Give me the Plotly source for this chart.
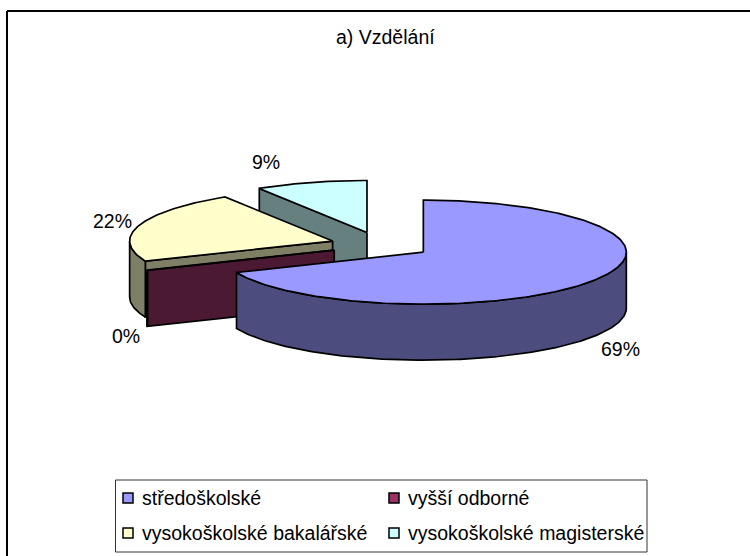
import numpy as np
import plotly.graph_objects as go

# %%
# Data (labels show these rounded)
categories = ["středoškolské", "vyšší odborné", "vysokoškolské bakalářské", "vysokoškolské magisterské"]
shares = [68.6, 0.1, 22.4, 8.9]
top_colors = ["#9999FF", "#993366", "#FFFFCC", "#CCFFFF"]
side_colors = ["#4C4C7F", "#4C1933", "#7F7F66", "#667F7F"]
title_text = "a) Vzdělání"

# Pie projection, in page pixels
CX, CY = 381, 245
RX, RY = 203, 52
DEPTH = 56
EXPLODE = 0.25
OUTLINE = 1.7
FONT = "Liberation Sans, Arial, sans-serif"
FONT_SIZE = 19.5
# where Excel put the percent labels
LABEL_XY = [(620, 349), (126, 336), (112, 221), (266, 162)]


def rim(center, a0, a1, depth=0.0):
    # points of the ellipse from angle a0 to a1 (degrees, clockwise from 12 o'clock)
    n = max(2, int(abs(a1 - a0)) + 1)
    t = np.radians(np.linspace(a0, a1, n))
    return center[0] + RX * np.sin(t), center[1] - RY * np.cos(t) + depth


def add_poly(fig, x, y, color):
    fig.add_trace(
        go.Scatter(
            x=np.r_[x, x[0]],
            y=np.r_[y, y[0]],
            mode="lines",
            fill="toself",
            fillcolor=color,
            line=dict(color="black", width=OUTLINE),
            hoverinfo="skip",
            showlegend=False,
        )
    )


# %%
# Slice angles from the shares
total = sum(shares)
edges = np.r_[0, np.cumsum(shares)] * 360 / total

fig = go.Figure()

# back slices first, the big front slice last
for i in [3, 2, 1, 0]:
    a0, a1 = edges[i], edges[i + 1]
    mid = np.radians((a0 + a1) / 2)
    apex = (CX + EXPLODE * RX * np.sin(mid), CY - EXPLODE * RY * np.cos(mid))

    # cut face at the start of the slice, when it faces the viewer
    if np.sin(np.radians(a0)) < -1e-6:
        ex, ey = rim(apex, a0, a0)
        add_poly(
            fig,
            [apex[0], ex[0], ex[0], apex[0]],
            [apex[1], ey[0], ey[0] + DEPTH, apex[1] + DEPTH],
            side_colors[i],
        )

    # outer wall, only the front half of the ellipse shows
    w0, w1 = max(a0, 90), min(a1, 270)
    if w1 > w0:
        tx, ty = rim(apex, w0, w1)
        bx, by = rim(apex, w1, w0, DEPTH)
        add_poly(fig, np.r_[tx, bx], np.r_[ty, by], side_colors[i])

    # top face
    tx, ty = rim(apex, a0, a1)
    add_poly(fig, np.r_[apex[0], tx], np.r_[apex[1], ty], top_colors[i])

# Percent labels
annotations = [
    dict(x=pos[0], y=pos[1], text=f"{round(v)}%", showarrow=False, font=dict(size=FONT_SIZE))
    for v, pos in zip(shares, LABEL_XY)
]
annotations.append(
    dict(x=385, y=37, text=title_text, showarrow=False, font=dict(size=FONT_SIZE))
)

# Legend box: two columns, two rows
legend_x = [128, 394, 128, 394]
legend_y = [498, 498, 533, 533]
fig.add_trace(
    go.Scatter(
        x=legend_x,
        y=legend_y,
        mode="markers",
        marker=dict(
            symbol="square",
            size=10,
            color=top_colors,
            line=dict(color="black", width=1.5),
        ),
        hoverinfo="skip",
        showlegend=False,
    )
)
for name, lx, ly in zip(categories, legend_x, legend_y):
    annotations.append(
        dict(
            x=lx + 11.5,
            y=ly - 0.5,
            text=name,
            xanchor="left",
            showarrow=False,
            font=dict(size=FONT_SIZE),
        )
    )

fig.update_layout(
    width=750,
    height=556,
    margin=dict(l=0, r=0, t=0, b=0),
    paper_bgcolor="white",
    plot_bgcolor="white",
    showlegend=False,
    font=dict(family=FONT, color="black"),
    xaxis=dict(range=[0, 750], visible=False, fixedrange=True),
    yaxis=dict(range=[556, 0], visible=False, fixedrange=True),
    annotations=annotations,
    shapes=[
        # chart frame runs off the right and bottom of the picture
        dict(type="line", x0=7, x1=7, y0=11, y1=556, line=dict(color="black", width=2)),
        dict(type="line", x0=7, x1=750, y0=11, y1=11, line=dict(color="black", width=2)),
        dict(
            type="rect",
            x0=115.5,
            x1=647,
            y0=480,
            y1=552,
            line=dict(color="#333333", width=1),
        ),
    ],
)

# the page's default body margin would shift the whole picture
fig.write_html(
    "out.html",
    config={"displayModeBar": False},
    post_script="document.body.style.margin = '0';",
)
